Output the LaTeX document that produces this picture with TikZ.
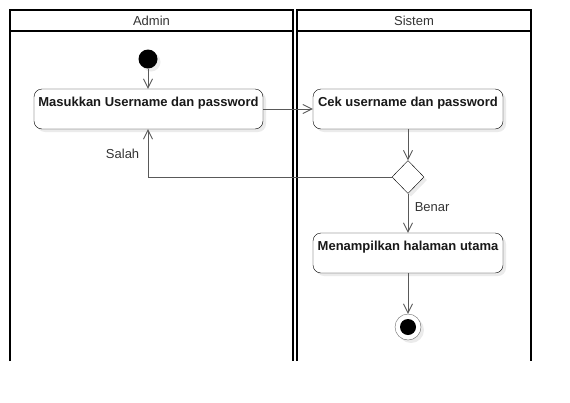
\documentclass[tikz,border=0pt]{standalone}
\usepackage{fontspec}
\setmainfont{Liberation Sans}
\usetikzlibrary{arrows.meta,positioning,shapes.geometric,shadows}

\begin{document}
\begin{tikzpicture}
		[x=1pt,y=-1pt,
		every node/.style={font=\fontsize{13}{15}\selectfont,text=black!80},
		lane/.style={draw=black,line width=2pt},
		flow/.style={draw=black!65,line width=0.9pt,-{Straight Barb[length=9pt,width=9pt]}},
		shade/.style={drop shadow={shadow xshift=3pt,shadow yshift=-3pt,fill=black!8,opacity=1}},
		action/.style={draw=black,fill=white,rounded corners=8pt,shade,inner sep=4pt,
			text height=13pt,text depth=19pt,font=\fontsize{13}{15}\selectfont\bfseries,text=black!90},
		decision/.style={diamond,draw=black,fill=white,shade,minimum width=32pt,minimum height=33pt,inner sep=0pt},
		initial/.style={circle,fill=black,minimum size=19pt,inner sep=0pt,shade},
		final/.style={circle,draw=black!60,fill=white,minimum size=26pt,inner sep=0pt,shade}]
		\useasboundingbox (0,0) rectangle (570,402);
		\draw[lane] (10,361) |- (293,10) -- (293,361);
		\draw[lane] (297,361) |- (531,10) -- (531,361);
		\draw[lane] (10,31) -- (293,31);
		\draw[lane] (297,31) -- (531,31);
		\node (admin) at (151.5,21) {Admin};
		\node (sistem) at (414,21) {Sistem};
		\node[initial] (mulai) at (148,59) {};
		\node[action,minimum width=229pt] (masuk) at (148.5,109) {Masukkan Username dan password};
		\node[action,minimum width=190pt] (cek) at (408,109) {Cek username dan password};
		\node[decision] (pilih) at (408,177) {};
		\node[action,minimum width=190pt] (tampil) at (408,253) {Menampilkan halaman utama};
		\node[final] (akhir) at (408,327) {};
		\fill (akhir) circle (8);
		\draw[flow] (mulai) -- (mulai |- masuk.north);
		\draw[flow] (masuk.east) -- (cek.west);
		\draw[flow] (cek) -- (pilih);
		\draw[flow] (pilih.west) -| (mulai |- masuk.south) node[left,pos=0.75,xshift=-5pt,yshift=-1pt] {Salah};
		\draw[flow] (pilih.south) -- (tampil.north) node[right,pos=0.35,xshift=3pt] {Benar};
		\draw[flow] (tampil) -- (akhir);
\end{tikzpicture}
\end{document}
